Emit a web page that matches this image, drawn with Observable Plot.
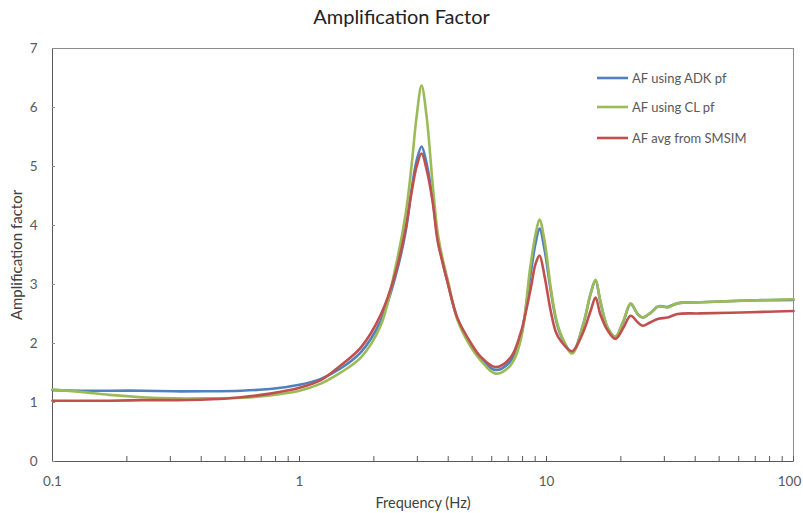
<!DOCTYPE html>
<html><head><meta charset="utf-8">
<script src="https://cdn.jsdelivr.net/npm/d3@7"></script>
<script src="https://cdn.jsdelivr.net/npm/@observablehq/plot@0.6"></script>
<style>
body{margin:0;background:#fff;font-family:Lato,"Open Sans",sans-serif;}
#wrap{position:relative;width:803px;height:513px;overflow:hidden;background:#fff}
#title{position:absolute;left:0;top:0;width:803px;height:32px;text-align:center;font-size:20px;line-height:32px;color:#222}
#chart{position:absolute;left:0;top:32px}
#legend{position:absolute;left:0;top:0}
</style></head><body>
<div id="wrap"><div id="title">Amplification Factor</div><div id="chart"></div><svg id="legend" width="803" height="513"></svg></div>
<script>
const freq = [0.1,0.13,0.17,0.23,0.31,0.42,0.58,0.76,1.0,1.22,1.47,1.77,2.13,2.45,2.69,2.84,2.98,3.12,3.27,3.46,3.62,3.79,3.97,4.36,4.92,5.4,6.22,7.15,7.85,8.6,9.03,9.37,9.81,10.4,10.9,11.4,12.7,14.1,15.1,15.8,16.5,17.7,19.0,20.5,21.9,23.4,24.5,26.4,28.4,30.9,33.9,42,67,100];
const afADK = [1.21,1.2,1.2,1.2,1.19,1.19,1.2,1.23,1.3,1.4,1.58,1.85,2.38,3.15,3.9,4.6,5.1,5.34,5.05,4.45,3.8,3.4,3.05,2.42,2.0,1.75,1.55,1.7,2.1,3.15,3.7,3.95,3.6,2.9,2.42,2.15,1.85,2.33,2.85,3.07,2.72,2.26,2.11,2.38,2.67,2.5,2.44,2.52,2.63,2.62,2.68,2.7,2.73,2.74];
const afCL = [1.22,1.18,1.13,1.09,1.07,1.07,1.08,1.12,1.2,1.32,1.51,1.76,2.3,3.3,4.2,5.0,5.85,6.37,5.85,4.7,3.9,3.45,3.1,2.4,1.95,1.72,1.49,1.63,2.05,3.3,3.85,4.1,3.75,2.95,2.45,2.17,1.83,2.34,2.85,3.08,2.73,2.27,2.12,2.39,2.68,2.5,2.44,2.52,2.63,2.61,2.68,2.7,2.73,2.75];
const afSMSIM = [1.03,1.03,1.03,1.04,1.04,1.05,1.09,1.15,1.25,1.38,1.63,1.93,2.48,3.2,3.95,4.55,5.0,5.22,4.95,4.4,3.75,3.38,3.05,2.43,2.02,1.78,1.6,1.76,2.17,2.9,3.35,3.49,3.15,2.55,2.2,2.05,1.87,2.2,2.56,2.78,2.5,2.22,2.08,2.27,2.47,2.36,2.3,2.36,2.42,2.44,2.5,2.51,2.53,2.55];
const seriesNames = ["AF using ADK pf","AF using CL pf","AF avg from SMSIM"];
const seriesColors = ["#4F81BD","#9BBB59","#C0504D"];
const xTickLabels = [0.1,1,10,100];
const xMinorTicks = [0.2,0.3,0.4,0.5,0.6,0.7,0.8,0.9,2,3,4,5,6,7,8,9,20,30,40,50,60,70,80,90];
const yTicks = [0,1,2,3,4,5,6,7];
const xLabel = "Frequency (Hz)";
const yLabel = "Amplification factor";

const seriesValues = [afADK, afCL, afSMSIM];
const rows = [];
seriesValues.forEach((vals, i) => vals.forEach((v, j) => rows.push({f: freq[j], v, s: seriesNames[i]})));

const font = 'Lato, "Open Sans", sans-serif';
const lastTick = xTickLabels[xTickLabels.length - 1];
const chart = Plot.plot({
  width: 803, height: 481,
  marginTop: 16, marginBottom: 52, marginLeft: 52, marginRight: 10,
  style: {fontFamily: font, fontSize: "13.5px", color: "#595959", background: "white", overflow: "visible"},
  x: {type: "log", domain: [0.1, 100]},
  y: {domain: [0, 7]},
  color: {domain: seriesNames, range: seriesColors},
  marks: [
    Plot.frame({stroke: "#8c8c8c"}),
    Plot.ruleX([0.1], {stroke: "#595959"}),
    Plot.ruleY([0], {stroke: "#595959"}),
    Plot.line(rows, {x: "f", y: "v", z: "s", stroke: "s", strokeWidth: 2.6, curve: "catmull-rom"}),
    Plot.axisX({ticks: xTickLabels.slice(0, -1), tickSize: 0, tickPadding: 15, tickFormat: d => String(d), label: null, fill: "#595959"}),
    Plot.axisX({ticks: [lastTick], tickSize: 0, tickPadding: 15, tickFormat: d => String(d), label: null, fill: "#595959", dx: -4}),
    Plot.axisX({ticks: xMinorTicks.concat(xTickLabels), tickSize: -5, tickFormat: () => "", label: null, stroke: "#595959"}),
    Plot.axisY({ticks: yTicks, tickSize: -3, tickPadding: 18, tickFormat: d => String(d), label: null, stroke: "#8c8c8c", fill: "#595959"}),
    Plot.text([xLabel], {frameAnchor: "bottom", dy: 42, lineAnchor: "middle", textAnchor: "middle", text: d => d, fill: "#404040", fontSize: 14.5}),
    Plot.text([yLabel], {frameAnchor: "left", dx: -35, rotate: -90, textAnchor: "middle", lineAnchor: "middle", text: d => d, fill: "#404040", fontSize: 15})
  ]
});
document.getElementById("chart").appendChild(chart);

const lg = d3.select("#legend");
const rowY = [78, 107, 138];
seriesNames.forEach((name, i) => {
  lg.append("line").attr("x1", 597).attr("x2", 628).attr("y1", rowY[i]).attr("y2", rowY[i])
    .attr("stroke", seriesColors[i]).attr("stroke-width", 2.6);
  lg.append("text").attr("x", 632).attr("y", rowY[i]).attr("dy", "0.35em")
    .attr("font-family", font).attr("font-size", 13).attr("fill", "#595959").text(name);
});
</script>
</body></html>
